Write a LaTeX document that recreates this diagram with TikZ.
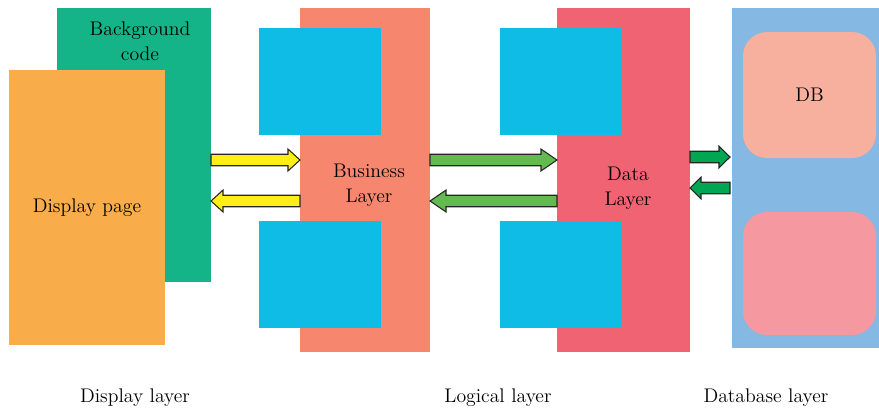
\documentclass[tikz,border=0pt]{standalone}
\usepackage{tikz}
\usetikzlibrary{calc, fit}
\definecolor{CodeGreen}{RGB}{20, 179, 136}
\definecolor{PageOrange}{RGB}{248, 172, 74}
\definecolor{BizSalmon}{RGB}{246, 135, 110}
\definecolor{DataRed}{RGB}{239, 99, 115}
\definecolor{ModCyan}{RGB}{15, 188, 230}
\definecolor{DBBlue}{RGB}{133, 184, 226}
\definecolor{DBPeach}{RGB}{247, 175, 158}
\definecolor{DBPink}{RGB}{245, 152, 160}
\definecolor{ArrowYellow}{RGB}{255, 240, 20}
\definecolor{ArrowGreen}{RGB}{99, 187, 79}
\definecolor{ArrowDark}{RGB}{0, 166, 81}
\tikzset{
  block/.style={inner sep=0pt, outer sep=0pt},
  caption/.style={font=\fontsize{14.8}{18.5}\selectfont, align=center, text=black},
  blockarrow/.style={draw=black!85, line width=0.8pt, line join=miter,
    to path={let \p1=(\tikztostart), \p2=(\tikztotarget), \n1={sign(\x2-\x1)} in
      (\x1,\y1+4.3pt) -- (\x2-\n1*#1,\y1+4.3pt) -- (\x2-\n1*#1,\y1+8.2pt) -- (\x2,\y1)
      -- (\x2-\n1*#1,\y1-8.2pt) -- (\x2-\n1*#1,\y1-4.3pt) -- (\x1,\y1-4.3pt) -- cycle}},
}

\begin{document}
\begin{tikzpicture}[x=0.75pt, y=-0.75pt]
  \useasboundingbox (0,0) rectangle (879,415);

  % display layer
  \node[block, fill=CodeGreen, fit={(57,8) (211,282)}] (code) {};
  \node[caption] (codetxt) at (140,41) {Background\\code};
  \node[block, fill=PageOrange, fit={(9,70) (165,345)}, caption] (page) {};
  \node[caption] (pagetxt) at (page.center) {Display page};

  % logical layer
  \node[block, fill=BizSalmon, fit={(300,8) (430,352)}] (biz) {};
  \node[block, fill=ModCyan, fit={(259,28) (381,135)}] (bizup) {};
  \node[block, fill=ModCyan, fit={(259,221) (381,328)}] (bizdown) {};
  \node[caption] (biztxt) at (369,185) {Business\\Layer};

  \node[block, fill=DataRed, fit={(557,8) (690,352)}] (data) {};
  \node[block, fill=ModCyan, fit={(500,28) (621,135)}] (dataup) {};
  \node[block, fill=ModCyan, fit={(500,221) (621,328)}] (datadown) {};
  \node[caption] (datatxt) at (628,188) {Data\\Layer};

  % database layer
  \node[block, fill=DBBlue, fit={(732,8) (879,348)}] (dbbg) {};
  \node[block, fill=DBPeach, rounded corners=18pt, fit={(743,32) (876,158)}] (db) {};
  \node[caption] (dbtxt) at (db.center) {DB};
  \node[block, fill=DBPink, rounded corners=18pt, fit={(743,212) (876,335)}] (dbtwo) {};

  % arrows
  \coordinate (yA) at (0,160);
  \coordinate (yB) at (0,201);
  \coordinate (yC) at (0,157);
  \coordinate (yD) at (0,188);
  \draw[blockarrow=9pt, fill=ArrowYellow] (code.east |- yA) to (biz.west |- yA);
  \draw[blockarrow=9pt, fill=ArrowYellow] (biz.west |- yB) to (code.east |- yB);
  \draw[blockarrow=12pt, fill=ArrowGreen] (biz.east |- yA) to (data.west |- yA);
  \draw[blockarrow=12pt, fill=ArrowGreen] (data.west |- yB) to (biz.east |- yB);
  \draw[blockarrow=8.25pt, fill=ArrowDark] (data.east |- yC) to ([xshift=-1.5pt]dbbg.west |- yC);
  \draw[blockarrow=8.25pt, fill=ArrowDark] ([xshift=-1.5pt]dbbg.west |- yD) to (data.east |- yD);

  % captions
  \node[caption] (displaylbl) at (135,398) {Display layer};
  \node[caption] (logiclbl) at (498,398) {Logical layer};
  \node[caption] (dblbl) at (766,398) {Database layer};
\end{tikzpicture}
\end{document}
